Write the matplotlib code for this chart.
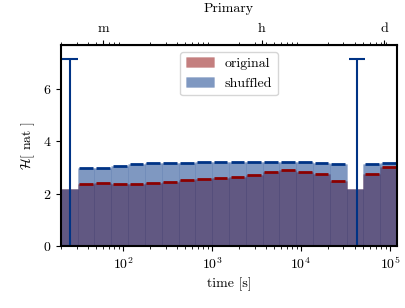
import numpy as np
import matplotlib
matplotlib.use("Agg")
import matplotlib.pyplot as plt
from matplotlib.colors import to_rgba

plt.rcParams["font.family"] = "serif"
plt.rcParams["font.serif"] = ["cmr10"]
plt.rcParams["mathtext.fontset"] = "cm"
plt.rcParams["axes.formatter.use_mathtext"] = True
plt.rcParams["axes.unicode_minus"] = False
plt.rcParams["font.size"] = 10

# Log-spaced bin edges in seconds
BIN_EDGES = [20, 30.9, 47.7, 73.7, 113.9, 176, 272, 420, 649, 1003, 1550,
             2394, 3700, 5716, 8832, 13646, 21085, 32577, 50334, 77770, 120000]

# Entropy per bin [nat]
ORIGINAL = [2.17, 2.36, 2.39, 2.35, 2.38, 2.42, 2.46, 2.52, 2.57, 2.61,
            2.65, 2.71, 2.82, 2.91, 2.84, 2.75, 2.50, 2.17, 2.74, 3.03]
SHUFFLED = [2.17, 2.98, 2.97, 3.07, 3.12, 3.16, 3.17, 3.18, 3.19, 3.20,
            3.21, 3.21, 3.21, 3.21, 3.21, 3.17, 3.12, 2.17, 3.13, 3.18]
GAP_BINS = [0, 17]          # bins without a mean marker

# Reference markers (time, height)
MARK_TIMES = [25, 42000]
MARK_HEIGHT = 7.14

# Top axis labels
TOP_TICKS = [60, 3600, 86400]
TOP_LABELS = ["m", "h", "d"]

RED = "#8b0000"
BLUE = "#003385"

edges = np.array(BIN_EDGES)
widths = np.diff(edges)

fig = plt.figure(figsize=(4.06, 3.08), dpi=100)
ax = fig.add_axes([0.150, 0.201, 0.828, 0.653])

ax.bar(edges[:-1], ORIGINAL, width=widths, align="edge",
       facecolor=to_rgba(RED, 0.5), edgecolor=to_rgba(RED, 0.12),
       linewidth=0.6, label="original")
ax.bar(edges[:-1], SHUFFLED, width=widths, align="edge",
       facecolor=to_rgba(BLUE, 0.5), edgecolor=to_rgba(BLUE, 0.12),
       linewidth=0.6, label="shuffled")

f = 1.04
for i in range(len(ORIGINAL)):
    if i in GAP_BINS:
        continue
    ax.hlines(ORIGINAL[i], edges[i] * f, edges[i + 1] / f, color=RED, lw=2)
    ax.hlines(SHUFFLED[i], edges[i] * f, edges[i + 1] / f, color=BLUE, lw=2)

for t in MARK_TIMES:
    ax.errorbar([t], [MARK_HEIGHT / 2], yerr=[MARK_HEIGHT / 2], fmt="none",
                ecolor=BLUE, elinewidth=1.5, capsize=5.5, capthick=1.5)

ax.set_xscale("log")
ax.set_xlim(BIN_EDGES[0], BIN_EDGES[-1])
ax.set_ylim(0, 7.67)
ax.set_yticks([0, 2, 4, 6])
ax.set_xlabel("time [s]")
ax.set_ylabel(r"$\mathcal{H}$[ nat ]")
for s in ax.spines.values():
    s.set_linewidth(1.5)

sec = ax.secondary_xaxis("top")
sec.set_xticks(TOP_TICKS)
sec.set_xticklabels(TOP_LABELS)
sec.set_xlabel("Primary", labelpad=8)

ax.legend(loc="upper center", fancybox=True)

fig.savefig("out.png", dpi=100)
